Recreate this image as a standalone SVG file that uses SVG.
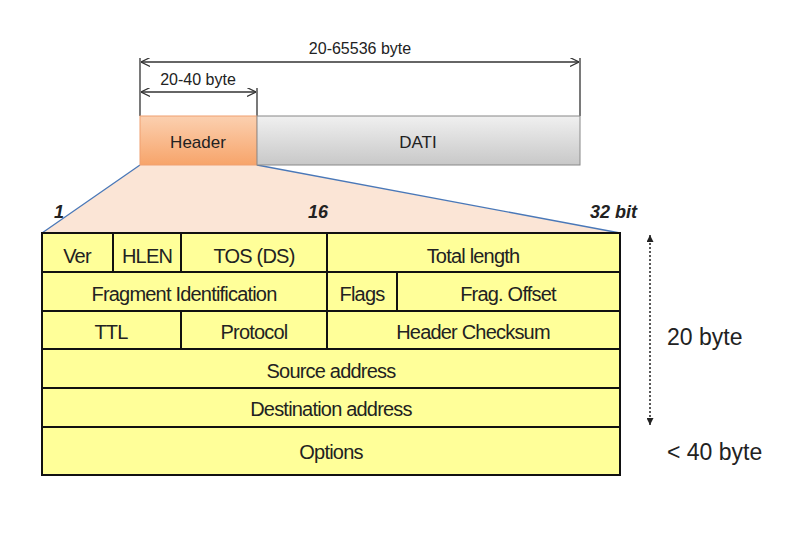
<svg xmlns="http://www.w3.org/2000/svg" width="799" height="533" viewBox="0 0 799 533">
<style>
text{font-family:"Liberation Sans",Arial,sans-serif;fill:#222}
.c{text-anchor:middle}
.f{font-size:20px;letter-spacing:-0.8px}
.cell{fill:#ffff99;stroke:#111;stroke-width:2}
.dim{stroke:#333;stroke-width:1.3;fill:none}
.b{font-weight:bold;font-style:italic;font-size:18px}
</style>
<defs>
<marker id="a" viewBox="0 0 10 10" refX="10" refY="5" markerWidth="9" markerHeight="9" orient="auto-start-reverse" markerUnits="userSpaceOnUse"><path d="M0,0L10,5L0,10" fill="none" stroke="#333" stroke-width="1.3"/></marker>
<marker id="t" viewBox="0 0 10 10" refX="10" refY="5" markerWidth="7" markerHeight="7" orient="auto-start-reverse" markerUnits="userSpaceOnUse"><path d="M0,0L10,5L0,10z" fill="#222"/></marker>
<linearGradient id="g" x1="0" y1="0" x2="0" y2="1"><stop offset="0" stop-color="#f0f0f0"/><stop offset="1" stop-color="#c8c8c8"/></linearGradient>
<linearGradient id="o" x1="0" y1="0" x2="0" y2="1"><stop offset="0" stop-color="#fbd0b0"/><stop offset="1" stop-color="#f7a46a"/></linearGradient>
</defs>
<g id="connectors">
<path d="M140,165L42,233L620,233L257,165Z" fill="#fbe5d6" stroke="none"/>
<path d="M140,165L42,233M257,165L620,233" stroke="#4a78b8" stroke-width="1.3" fill="none"/>
<path class="dim" d="M140,58V116M257,88V116M580,58V116"/>
<line class="dim" x1="141" y1="62" x2="579" y2="62" marker-start="url(#a)" marker-end="url(#a)"/>
<line class="dim" x1="141" y1="92" x2="256" y2="92" marker-start="url(#a)" marker-end="url(#a)"/>
<line x1="650" y1="235" x2="650" y2="425" stroke="#222" stroke-width="1.5" stroke-dasharray="2,2" marker-start="url(#t)" marker-end="url(#t)"/>
</g>
<text x="360" y="54" class="c" font-size="16">20-65536 byte</text>
<text x="198" y="85" class="c" font-size="16">20-40 byte</text>
<g id="header"><rect x="140" y="116" width="117" height="49" fill="url(#o)" stroke="#f0a070"/><text x="198" y="148" class="c" font-size="17">Header</text></g>
<g id="dati"><rect x="257" y="116" width="323" height="49" fill="url(#g)" stroke="#888"/><text x="418" y="148" class="c" font-size="17">DATI</text></g>
<text x="54" y="218" class="b">1</text>
<text x="308" y="218" class="b">16</text>
<text x="590" y="218" class="b">32  bit</text>
<g id="table">
<rect class="cell" x="42" y="233" width="71" height="39"/><text x="77" y="263" class="c f">Ver</text>
<rect class="cell" x="113" y="233" width="68" height="39"/><text x="147" y="263" class="c f">HLEN</text>
<rect class="cell" x="181" y="233" width="146" height="39"/><text x="254" y="263" class="c f">TOS (DS)</text>
<rect class="cell" x="327" y="233" width="293" height="39"/><text x="473" y="263" class="c f">Total length</text>
<rect class="cell" x="42" y="272" width="285" height="39"/><text x="184" y="301" class="c f">Fragment Identification</text>
<rect class="cell" x="327" y="272" width="70" height="39"/><text x="362" y="301" class="c f">Flags</text>
<rect class="cell" x="397" y="272" width="223" height="39"/><text x="508" y="301" class="c f">Frag. Offset</text>
<rect class="cell" x="42" y="311" width="139" height="38"/><text x="111" y="339" class="c f">TTL</text>
<rect class="cell" x="181" y="311" width="146" height="38"/><text x="254" y="339" class="c f">Protocol</text>
<rect class="cell" x="327" y="311" width="293" height="38"/><text x="473" y="339" class="c f">Header Checksum</text>
<rect class="cell" x="42" y="349" width="578" height="39"/><text x="331" y="378" class="c f">Source address</text>
<rect class="cell" x="42" y="388" width="578" height="39"/><text x="331" y="416" class="c f">Destination address</text>
<rect class="cell" x="42" y="427" width="578" height="48"/><text x="331" y="459" class="c f">Options</text>
</g>
<text x="667" y="345" font-size="23">20 byte</text>
<text x="667" y="460" font-size="23">&lt; 40 byte</text>
</svg>
